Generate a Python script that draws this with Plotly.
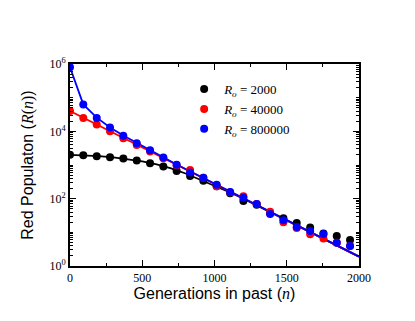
import plotly.graph_objects as go

# generations sampled (markers)
gen = [0, 92, 185, 277, 369, 462, 554, 646, 738, 831, 923, 1015,
       1108, 1200, 1292, 1385, 1477, 1569, 1662, 1754, 1846, 1938]

sim_2000 = [2000, 1950, 1820, 1700, 1550, 1350, 1120, 910, 660, 470, 340, 235,
            145, 85, 66, 37, 26, 19, 14, 9.3, 7.8, 5.9]
sim_40000 = [40000, 25000, 16000, 10000, 6200, 3900, 2500, 1600, 980, 710, 420, 235,
             155, 117, 69, 41, 20, 13.5, 8.7, 6.6, 4.9, 3.9]
sim_800000 = [800000, 63000, 25000, 12900, 7400, 4400, 2750, 1660, 1020, 600, 420, 257,
              158, 107, 69, 35, 23, 14.5, 11, 8.9, 4.9, 3.9]

# theory curves
gen_2000 = [0, 100, 200, 300, 400, 500, 600, 700, 800, 900, 1000, 1100, 1200, 1300, 1400, 2000]
th_2000 = [2000, 1950, 1830, 1680, 1500, 1280, 1040, 790, 560, 370, 245, 158, 100, 62, 37, 1.9]
gen_40000 = [0, 2000]
th_40000 = [40000, 1.9]
gen_800000 = [0, 92, 185, 277, 369, 462, 554, 646, 738, 2000]
th_800000 = [800000, 63000, 25500, 13000, 7500, 4500, 2780, 1700, 1040, 1.9]

labels = ["<i>R</i><sub><i>o</i></sub> = 2000",
          "<i>R</i><sub><i>o</i></sub> = 40000",
          "<i>R</i><sub><i>o</i></sub> = 800000"]
colors = ["#000000", "#ff0000", "#0000ff"]

fig = go.Figure()
lines = [(gen_2000, th_2000), (gen_40000, th_40000), (gen_800000, th_800000)]
sims = [sim_2000, sim_40000, sim_800000]
for (lx, ly), c in zip(lines, colors):
    fig.add_trace(go.Scatter(x=lx, y=ly, mode="lines", line=dict(color=c, width=1.8),
                             showlegend=False, hoverinfo="skip"))
for s, c, lab in zip(sims, colors, labels):
    fig.add_trace(go.Scatter(x=gen, y=s, mode="markers", name=lab,
                             marker=dict(color=c, size=8)))

serif = "Liberation Serif, Times New Roman, serif"
sans = "Liberation Sans, Arial, sans-serif"

# page body has an 8px margin, so the margins are shifted to compensate
fig.update_layout(
    width=415, height=321,
    margin=dict(l=62, r=64, t=56, b=63),
    paper_bgcolor="white", plot_bgcolor="white",
    showlegend=True,
    legend=dict(x=0.395, y=0.95, xanchor="left", yanchor="top",
                bgcolor="rgba(0,0,0,0)", font=dict(family=serif, size=13, color="black"),
                tracegroupgap=0, itemwidth=30),
)
fig.update_xaxes(
    range=[0, 2000], tickvals=[0, 500, 1000, 1500, 2000],
    ticks="inside", ticklen=6, tickwidth=1, tickcolor="black",
    minor=dict(ticks="inside", ticklen=3, tickvals=[250, 750, 1250, 1750], tickcolor="black"),
    showline=True, linecolor="black", linewidth=2, mirror="ticks",
    showgrid=False, zeroline=False, automargin=False,
    tickfont=dict(family=serif, size=12, color="black"),
    title=dict(text="Generations in past (<i><span style='font-family:Liberation Serif'>n</span></i>)",
               font=dict(family=sans, size=16, color="black"), standoff=3),
)
fig.update_yaxes(
    type="log", range=[0, 6],
    tickvals=[1, 100, 1e4, 1e6],
    ticktext=["10<sup>0</sup>", "10<sup>2</sup>", "10<sup>4</sup>", "10<sup>6</sup>"],
    ticks="inside", ticklen=6, tickwidth=1, tickcolor="black",
    minor=dict(ticks="inside", ticklen=3, dtick="D1", tickcolor="black"),
    showline=True, linecolor="black", linewidth=2, mirror="ticks",
    showgrid=False, zeroline=False, automargin=False,
    tickfont=dict(family=serif, size=12, color="black"),
    title=dict(text="Red Populaton (<span style='font-family:Liberation Serif'><i>R</i>(<i>n</i>)</span>)",
               font=dict(family=sans, size=16, color="black"), standoff=12),
)

fig.write_html("out.html")
